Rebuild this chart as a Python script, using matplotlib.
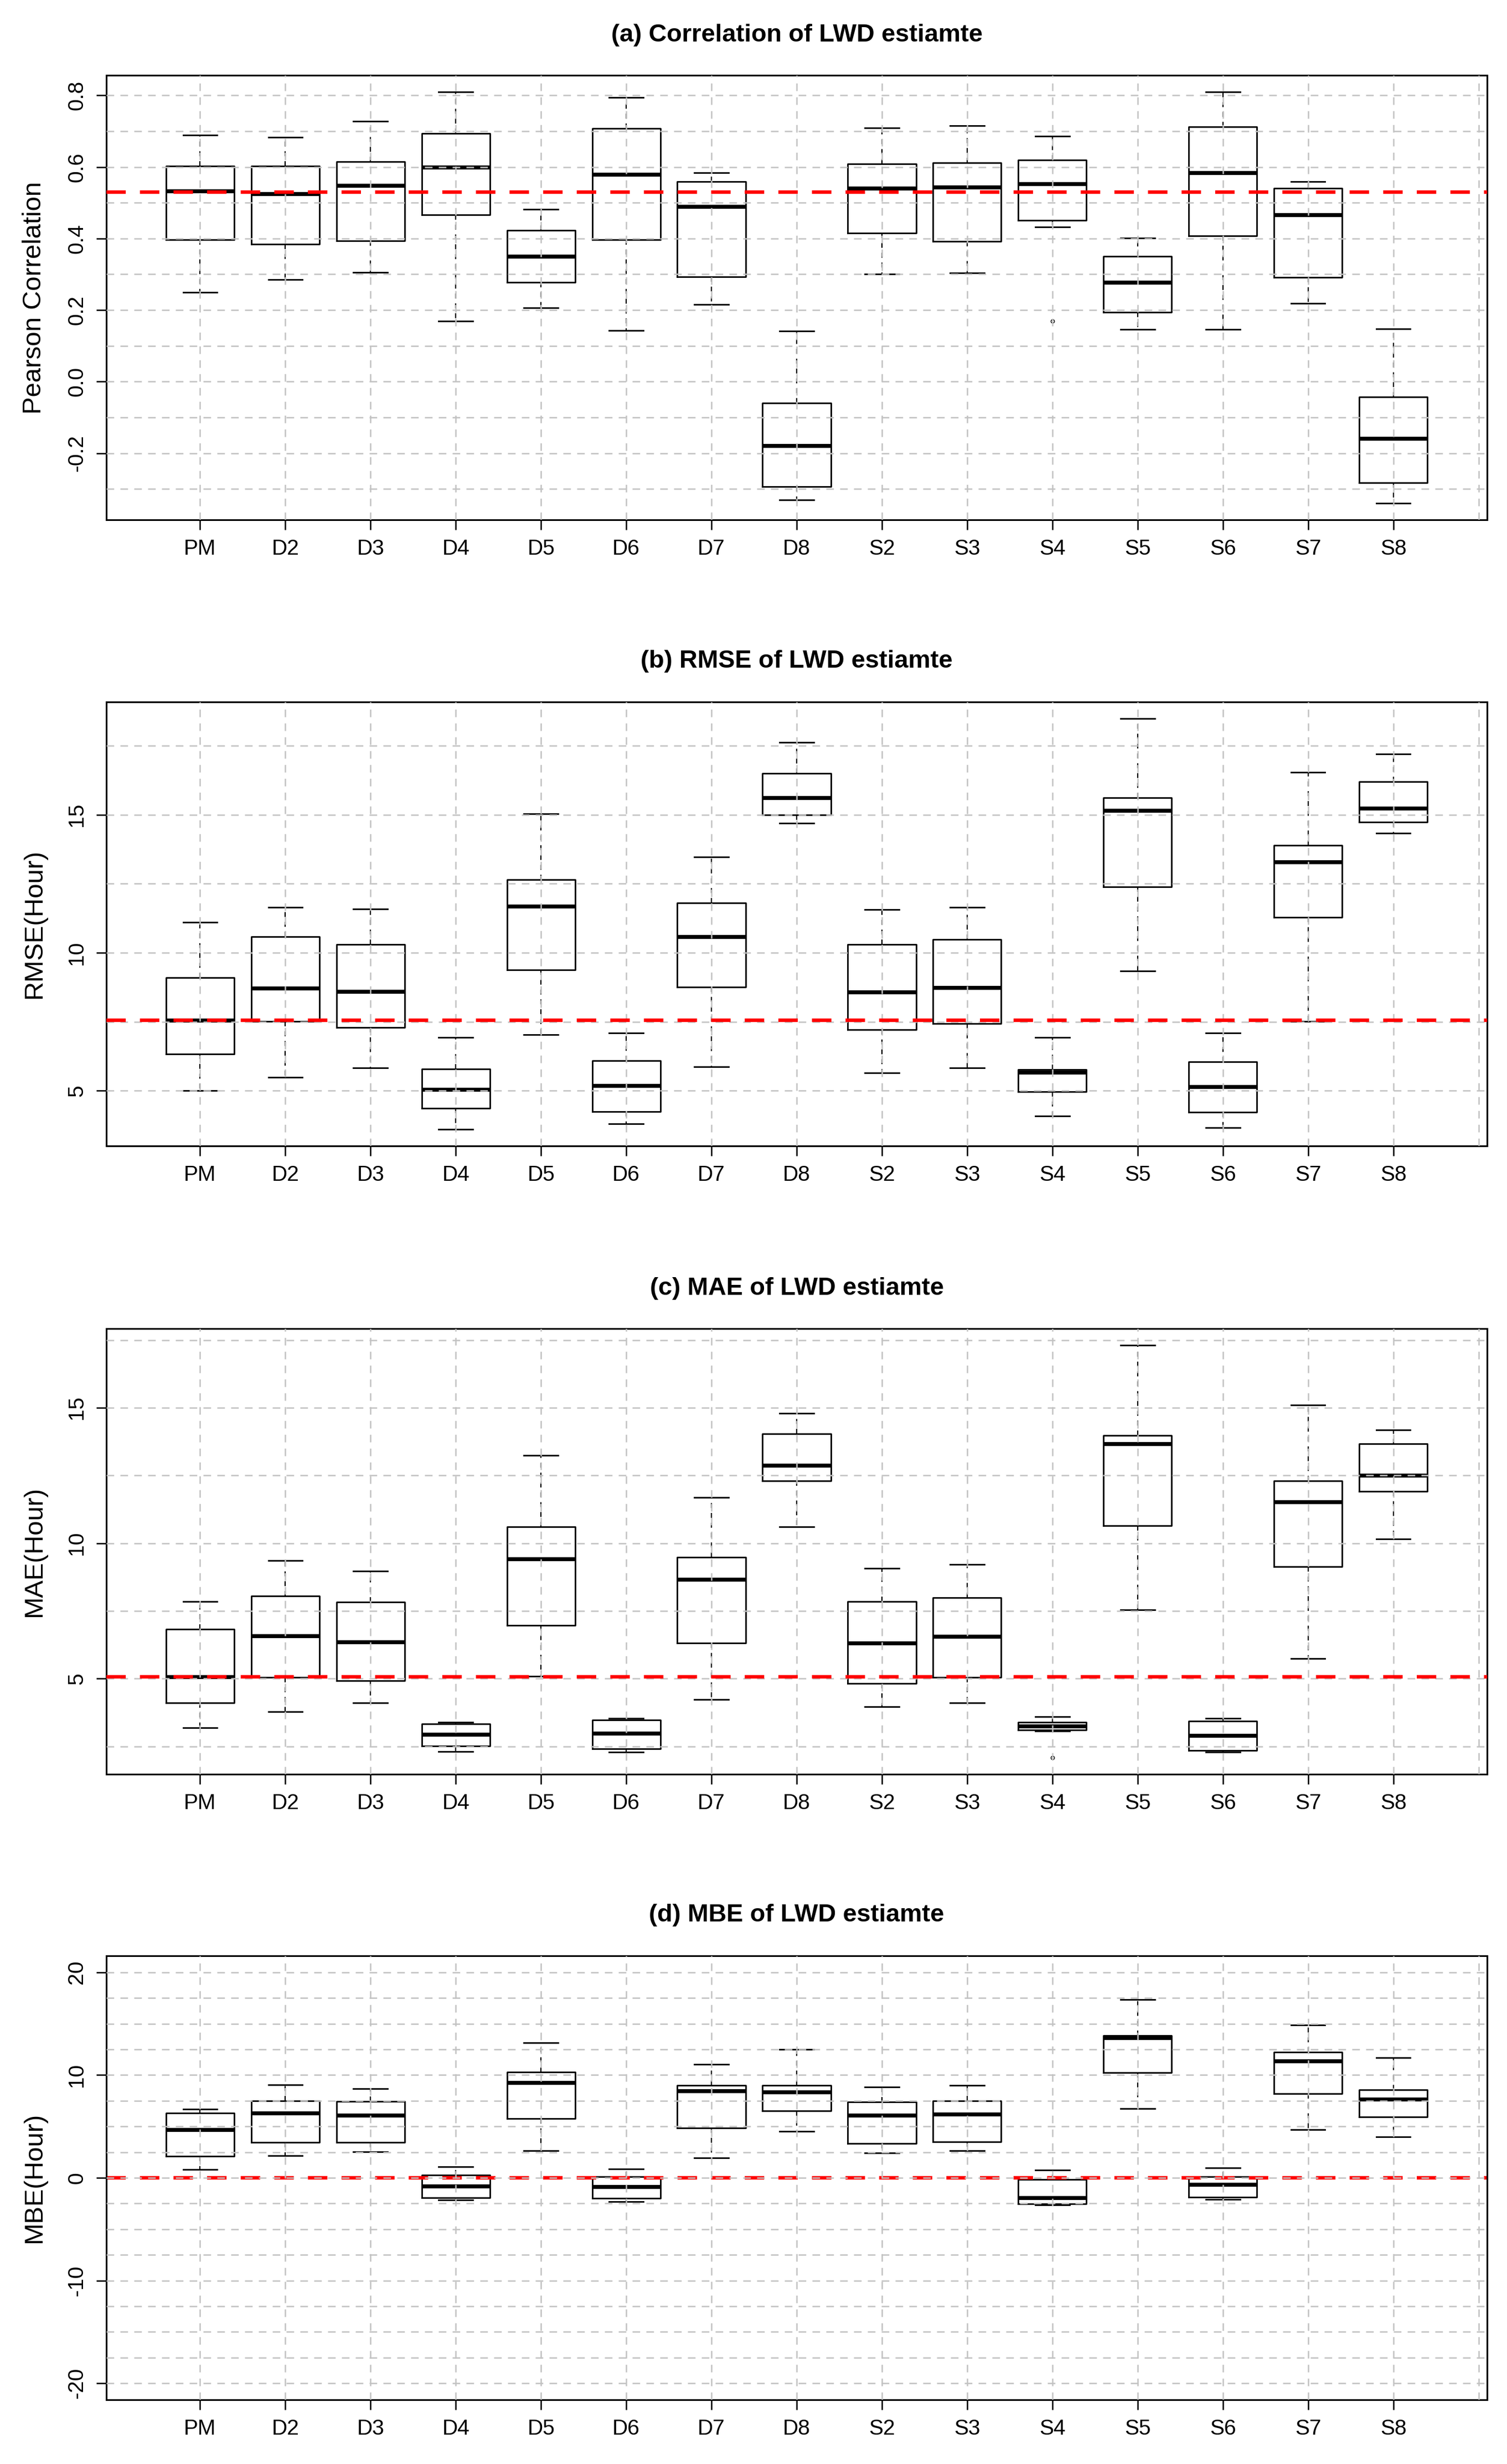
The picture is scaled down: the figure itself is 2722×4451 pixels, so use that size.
import matplotlib
matplotlib.use("Agg")
import matplotlib.pyplot as plt

plt.rcParams['font.family'] = ['Liberation Sans', 'DejaVu Sans']

categories = ["PM", "D2", "D3", "D4", "D5", "D6", "D7", "D8",
              "S2", "S3", "S4", "S5", "S6", "S7", "S8"]

# ---- (a) Pearson correlation ----
a_whislo = [0.250, 0.286, 0.305, 0.169, 0.207, 0.143, 0.215, -0.331,
            0.300, 0.304, 0.432, 0.146, 0.146, 0.218, -0.340]
a_q1 = [0.397, 0.385, 0.393, 0.466, 0.277, 0.397, 0.293, -0.293,
        0.415, 0.392, 0.450, 0.194, 0.408, 0.291, -0.283]
a_med = [0.532, 0.525, 0.548, 0.600, 0.350, 0.579, 0.490, -0.178,
         0.540, 0.544, 0.553, 0.277, 0.584, 0.466, -0.159]
a_q3 = [0.603, 0.603, 0.615, 0.693, 0.423, 0.708, 0.559, -0.059,
        0.608, 0.612, 0.620, 0.350, 0.712, 0.540, -0.043]
a_whishi = [0.689, 0.682, 0.728, 0.810, 0.481, 0.794, 0.584, 0.141,
            0.709, 0.716, 0.686, 0.401, 0.809, 0.559, 0.148]
a_fliers = [[], [], [], [], [], [], [], [], [], [], [0.169], [], [], [], []]
a_ref = 0.530

# ---- (b) RMSE ----
b_whislo = [5.00, 5.49, 5.83, 3.60, 7.04, 3.81, 5.88, 14.70,
            5.65, 5.83, 4.08, 9.35, 3.66, 7.51, 14.34]
b_q1 = [6.34, 7.52, 7.30, 4.37, 9.39, 4.25, 8.75, 15.00,
        7.21, 7.43, 4.97, 12.39, 4.22, 11.29, 14.74]
b_med = [7.56, 8.71, 8.59, 5.05, 11.68, 5.19, 10.59, 15.62,
         8.57, 8.73, 5.67, 15.16, 5.14, 13.29, 15.23]
b_q3 = [9.10, 10.59, 10.30, 5.80, 12.64, 6.09, 11.80, 16.49,
        10.30, 10.49, 5.78, 15.62, 6.05, 13.89, 16.19]
b_whishi = [11.10, 11.64, 11.59, 6.94, 15.04, 7.09, 13.48, 17.62,
            11.56, 11.64, 6.94, 18.49, 7.09, 16.54, 17.20]
b_fliers = [[] for _ in categories]
b_ref = 7.56

# ---- (c) MAE ----
c_whislo = [3.19, 3.78, 4.11, 2.31, 5.08, 2.28, 4.22, 10.60,
            3.96, 4.11, 3.07, 7.53, 2.29, 5.74, 10.15]
c_q1 = [4.11, 5.05, 4.93, 2.51, 6.97, 2.42, 6.31, 12.29,
        4.83, 5.04, 3.10, 10.65, 2.34, 9.14, 11.92]
c_med = [5.07, 6.57, 6.36, 2.94, 9.42, 2.98, 8.66, 12.88,
         6.31, 6.55, 3.24, 13.66, 2.91, 11.52, 12.50]
c_q3 = [6.83, 8.04, 7.83, 3.32, 10.60, 3.48, 9.48, 14.03,
        7.84, 7.99, 3.39, 13.98, 3.43, 12.29, 13.66]
c_whishi = [7.84, 9.35, 8.96, 3.40, 13.25, 3.54, 11.68, 14.80,
            9.07, 9.22, 3.60, 17.31, 3.53, 15.09, 14.18]
c_fliers = [[], [], [], [], [], [], [], [], [], [], [2.08], [], [], [], []]
c_ref = 5.07

# ---- (d) MBE ----
d_whislo = [0.80, 2.15, 2.55, -2.15, 2.66, -2.30, 1.93, 4.53,
            2.45, 2.66, -2.63, 6.72, -2.12, 4.67, 4.01]
d_q1 = [2.08, 3.47, 3.47, -1.93, 5.77, -2.01, 4.85, 6.50,
        3.32, 3.50, -2.52, 10.22, -1.90, 8.21, 5.95]
d_med = [4.67, 6.28, 6.06, -0.80, 9.27, -0.84, 8.47, 8.36,
         6.06, 6.20, -1.93, 13.65, -0.66, 11.39, 7.63]
d_q3 = [6.28, 7.48, 7.41, 0.26, 10.29, 0.11, 8.98, 8.98,
        7.37, 7.48, -0.15, 13.87, 0.11, 12.23, 8.54]
d_whishi = [6.68, 9.05, 8.69, 1.06, 13.14, 0.84, 11.02, 12.48,
            8.83, 8.98, 0.77, 17.34, 0.95, 14.89, 11.68]
d_fliers = [[] for _ in categories]
d_ref = 0.0

titles = ["(a) Correlation of LWD estiamte", "(b) RMSE of LWD estiamte",
          "(c) MAE of LWD estiamte", "(d) MBE of LWD estiamte"]
ylabels = ["Pearson Correlation", "RMSE(Hour)", "MAE(Hour)", "MBE(Hour)"]
yticks_list = [[-0.2, 0.0, 0.2, 0.4, 0.6, 0.8], [5, 10, 15], [5, 10, 15],
               [-20, -10, 0, 10, 20]]
ytick_fmt = ["{:.1f}", "{:g}", "{:g}", "{:g}"]
ygrid_list = [[-0.3, -0.2, -0.1, 0.0, 0.1, 0.2, 0.3, 0.4, 0.5, 0.6, 0.7, 0.8],
              [5, 7.5, 10, 12.5, 15, 17.5],
              [2.5, 5, 7.5, 10, 12.5, 15, 17.5],
              [-20, -17.5, -15, -12.5, -10, -7.5, -5, -2.5, 0, 2.5, 5, 7.5,
               10, 12.5, 15, 17.5, 20]]
fixed_ylim = [None, None, None, (-20, 20)]

panels = [
    (a_whislo, a_q1, a_med, a_q3, a_whishi, a_fliers, a_ref),
    (b_whislo, b_q1, b_med, b_q3, b_whishi, b_fliers, b_ref),
    (c_whislo, c_q1, c_med, c_q3, c_whishi, c_fliers, c_ref),
    (d_whislo, d_q1, d_med, d_q3, d_whishi, d_fliers, d_ref),
]

W, H = 2722, 4451
fig = plt.figure(figsize=(W / 100, H / 100), dpi=100)

# axes boxes in pixels: (top, bottom)
left_px, right_px = 192, 2686
boxes_px = [(136, 939), (1268, 2070), (2400, 3205), (3533, 4335)]

grid_color = "#c2c2c2"
positions = list(range(1, len(categories) + 1))

for i, (wlo, q1, med, q3, whi, fl, ref) in enumerate(panels):
    top, bot = boxes_px[i]
    ax = fig.add_axes([left_px / W, 1 - bot / H, (right_px - left_px) / W,
                       (bot - top) / H])
    stats = []
    for k, lab in enumerate(categories):
        stats.append(dict(label=lab, whislo=wlo[k], q1=q1[k], med=med[k],
                          q3=q3[k], whishi=whi[k], fliers=fl[k]))
    ax.bxp(stats, positions=positions, widths=0.8, capwidths=0.4,
           showfliers=True, patch_artist=False,
           boxprops=dict(color="black", linewidth=2.0),
           medianprops=dict(color="black", linewidth=5.2, solid_capstyle="butt"),
           whiskerprops=dict(color="black", linewidth=1.6,
                             linestyle=(0, (4, 4))),
           capprops=dict(color="black", linewidth=2.0),
           flierprops=dict(marker="o", markersize=4.5, markerfacecolor="none",
                           markeredgecolor="black", markeredgewidth=1.0),
           zorder=2)

    # y-limits like R (4% expansion)
    if fixed_ylim[i] is None:
        allv = list(wlo) + list(whi) + [v for f in fl for v in f]
        lo, hi = min(allv), max(allv)
    else:
        lo, hi = fixed_ylim[i]
    r = hi - lo
    ax.set_ylim(lo - 0.04 * r, hi + 0.04 * r)
    n = len(categories)
    ax.set_xlim(0.5 - 0.04 * n, n + 0.5 + 0.04 * n)

    # grid (drawn over boxes, like R's grid() after boxplot)
    for xv in range(1, n + 2):
        ax.axvline(xv, color=grid_color, lw=1.8, ls=(0, (5.5, 4.5)), zorder=3)
    grid_z = 3
    ref_z = 4 if i < 3 else 2.5
    for yv in ygrid_list[i]:
        ax.axhline(yv, color=grid_color, lw=1.8, ls=(0, (5.5, 4.5)), zorder=grid_z)
    ax.axhline(ref, color="red", lw=4.6, ls=(0, (5.5, 4.0)), zorder=ref_z)

    ax.set_xticks(positions)
    ax.set_xticklabels(categories)
    ax.set_yticks(yticks_list[i])
    ax.set_yticklabels([ytick_fmt[i].format(v) for v in yticks_list[i]],
                       rotation=90, va="center")
    ax.tick_params(axis="both", length=13, width=1.8, color="black",
                   labelsize=28, direction="out")
    ax.tick_params(axis="x", pad=12)
    ax.tick_params(axis="y", pad=12)
    for sp in ax.spines.values():
        sp.set_linewidth(2.2)
        sp.set_color("black")

    ax.text(-0.052, 0.5, ylabels[i], transform=ax.transAxes, rotation=90,
            ha="center", va="center", fontsize=34)
    ax.text(0.5, 1 + 73 / (bot - top), titles[i], transform=ax.transAxes,
            ha="center", va="center", fontsize=32.5, fontweight="bold")

fig.savefig("out.png", dpi=100, facecolor="white")
